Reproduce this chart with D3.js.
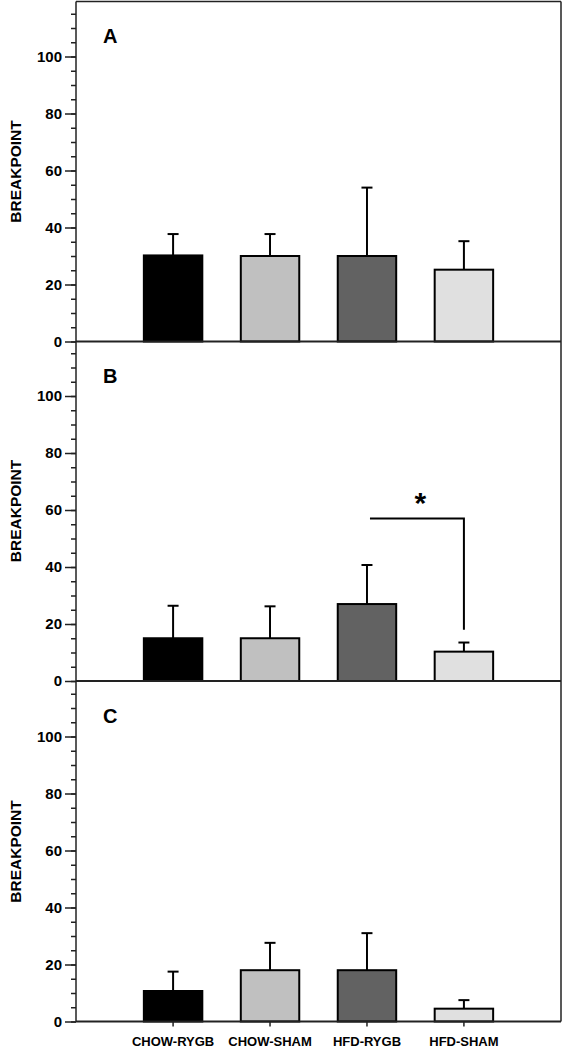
<!DOCTYPE html>
<html>
<head>
<meta charset="utf-8">
<script src="https://cdn.jsdelivr.net/npm/d3@7"></script>
<style>
  html, body { margin: 0; padding: 0; background: #fff; }
  svg { display: block; }
  text { font-family: "Liberation Sans", Arial, sans-serif; font-weight: bold; fill: #000; }
</style>
</head>
<body>
<svg id="chart" width="564" height="1050"></svg>
<script>
// ---------- data ----------
const categories = ["CHOW-RYGB", "CHOW-SHAM", "HFD-RYGB", "HFD-SHAM"];
const panelLabels = ["A", "B", "C"];
const meansA = [30.2, 30, 30, 25.2];
const semA   = [7.5, 7.7, 24, 10];
const meansB = [15, 15, 27, 10.3];
const semB   = [11.4, 11.2, 13.7, 3.2];
const meansC = [10.7, 18, 18, 4.5];
const semC   = [6.8, 9.6, 13, 3];
const barColors = ["#000000", "#c0c0c0", "#626262", "#e0e0e0"];
const majorTicks = [0, 20, 40, 60, 80, 100];
const minorTicks = d3.range(0, 120, 5);
const yLabel = "BREAKPOINT";
// significance in panel B: bracket between HFD-RYGB and HFD-SHAM
const sigFrom = "HFD-RYGB", sigTo = "HFD-SHAM", sigTop = 57, sigDrop = 18, sigMark = "*";

const panels = [
  { label: panelLabels[0], means: meansA, sem: semA },
  { label: panelLabels[1], means: meansB, sem: semB, sig: true },
  { label: panelLabels[2], means: meansC, sem: semC, xLabels: true }
];

// ---------- layout ----------
const svg = d3.select("#chart");
const left = 76, right = 561;
const zeroLines = [341.5, 681, 1021.5];
const panelH = 340;
const yMax = 119.3;

const x = d3.scaleBand().domain(categories).range([left, right])
  .paddingInner(0.397).paddingOuter(0.70);
const cx = c => x(c) + x.bandwidth() / 2;

const frameColor = "#222";

panels.forEach((p, i) => {
  const zero = zeroLines[i];
  const y = d3.scaleLinear().domain([0, yMax]).range([zero, zero - panelH]);
  const g = svg.append("g");

  // y axis ticks (minor)
  const yAxisMinor = d3.axisLeft(y).tickValues(minorTicks).tickSize(5).tickFormat("");
  const gm = g.append("g").attr("transform", `translate(${left},0)`).call(yAxisMinor);
  gm.select(".domain").remove();
  gm.selectAll("line").attr("stroke", frameColor).attr("stroke-width", 1.5);

  // y axis major
  const yAxis = d3.axisLeft(y).tickValues(majorTicks).tickSize(11).tickPadding(3).tickFormat(d3.format("d"));
  const ga = g.append("g").attr("transform", `translate(${left},0)`).call(yAxis);
  ga.select(".domain").remove();
  ga.selectAll("line").attr("stroke", frameColor).attr("stroke-width", 1.5);
  ga.selectAll("text").style("font-size", "15px").style("font-family", "Liberation Sans, Arial, sans-serif")
    .style("font-weight", "bold").attr("fill", "#000");

  // y label
  g.append("text")
    .attr("transform", `translate(21,${(zero + (zero - panelH)) / 2}) rotate(-90)`)
    .attr("text-anchor", "middle")
    .style("font-size", "15.5px")
    .text(yLabel);

  // panel letter
  g.append("text")
    .attr("x", 103).attr("y", zero - panelH + 41.5)
    .style("font-size", "20px")
    .text(p.label);

  // error bars
  const cap = 5.5;
  categories.forEach((c, j) => {
    const top = y(p.means[j] + p.sem[j]);
    g.append("line").attr("x1", cx(c)).attr("x2", cx(c))
      .attr("y1", y(p.means[j])).attr("y2", top)
      .attr("stroke", "#000").attr("stroke-width", 2);
    g.append("line").attr("x1", cx(c) - cap).attr("x2", cx(c) + cap)
      .attr("y1", top).attr("y2", top)
      .attr("stroke", "#000").attr("stroke-width", 2);
  });

  // bars
  g.selectAll("rect.bar").data(categories).enter().append("rect")
    .attr("class", "bar")
    .attr("x", c => x(c))
    .attr("width", x.bandwidth())
    .attr("y", (c, j) => y(p.means[j]))
    .attr("height", (c, j) => y(0) - y(p.means[j]))
    .attr("fill", (c, j) => barColors[j])
    .attr("stroke", "#000").attr("stroke-width", 2);

  // zero line / x axis
  const xAxis = d3.axisBottom(x).tickSize(p.xLabels ? 5 : 0).tickPadding(10)
    .tickFormat(p.xLabels ? (d => d) : "");
  const gx = g.append("g").attr("transform", `translate(0,${zero})`).call(xAxis);
  gx.select(".domain").attr("d", `M${left},0H${right}`).attr("stroke", frameColor).attr("stroke-width", 2);
  gx.selectAll("line").attr("stroke", frameColor).attr("stroke-width", 1.5);
  gx.selectAll("text").style("font-size", "13px").style("font-family", "Liberation Sans, Arial, sans-serif")
    .style("font-weight", "bold").attr("fill", "#000");

  // significance bracket
  if (p.sig) {
    const yb = y(sigTop);
    g.append("path")
      .attr("d", `M${cx(sigFrom) + 3},${yb}H${cx(sigTo)}V${y(sigDrop)}`)
      .attr("fill", "none").attr("stroke", "#000").attr("stroke-width", 2);
    g.append("text")
      .attr("x", (cx(sigFrom) + cx(sigTo)) / 2 + 5)
      .attr("y", yb - 5.5)
      .attr("text-anchor", "middle")
      .style("font-size", "30px")
      .text(sigMark);
  }
});

// frame: left axis, right border, top border
svg.append("line").attr("x1", left).attr("x2", left)
  .attr("y1", zeroLines[0] - panelH).attr("y2", zeroLines[2])
  .attr("stroke", frameColor).attr("stroke-width", 1.5);
svg.append("line").attr("x1", right).attr("x2", right)
  .attr("y1", zeroLines[0] - panelH).attr("y2", zeroLines[2])
  .attr("stroke", frameColor).attr("stroke-width", 1.5);
svg.append("line").attr("x1", left).attr("x2", right)
  .attr("y1", zeroLines[0] - panelH).attr("y2", zeroLines[0] - panelH)
  .attr("stroke", frameColor).attr("stroke-width", 1.5);
</script>
</body>
</html>
